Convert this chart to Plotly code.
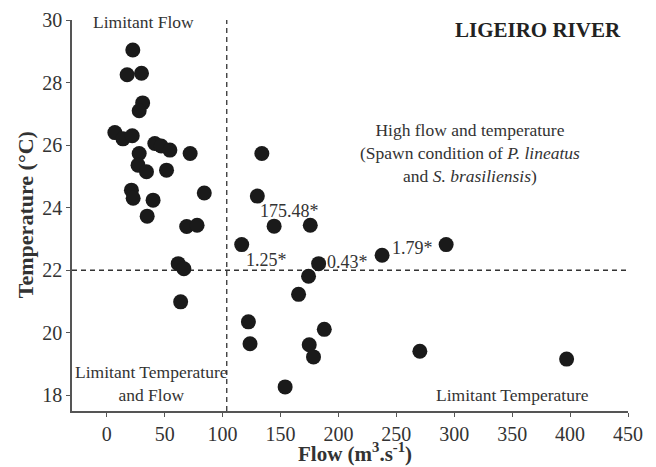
import plotly.graph_objects as go

flow = [22.5, 17.6, 30, 31, 28, 7, 14, 22, 41.5, 47, 54.5, 72, 28, 27, 34.3, 51.6,
        21.3, 22.8, 40, 84.2, 34.9, 69, 78, 61.7, 66.6, 63.8,
        116.5, 133.9, 130, 144.5, 175.7, 237.7, 182.9, 174.2, 165.6, 122.3, 123.7,
        187.8, 174.8, 178.5, 154, 293, 270.3, 397]
temperature = [29.04, 28.25, 28.3, 27.35, 27.1, 26.4, 26.2, 26.3, 26.05, 25.97, 25.84, 25.73,
               25.73, 25.36, 25.15, 25.2, 24.56, 24.3, 24.24, 24.47, 23.73, 23.4, 23.44,
               22.21, 22.05, 20.99,
               22.82, 25.73, 24.37, 23.41, 23.44, 22.48, 22.21, 21.81, 21.23, 20.35, 19.65,
               20.11, 19.62, 19.23, 18.27, 22.82, 19.41, 19.16]

x_ticks = [0, 50, 100, 150, 200, 250, 300, 350, 400, 450]
y_ticks = [18, 20, 22, 24, 26, 28, 30]

flow_limit = 103.6
temp_limit = 22

value_labels = ["175.48*", "1.25*", "0.43*", "1.79*"]
value_label_x = [157.5, 137.6, 207.7, 264]
value_label_y = [23.89, 22.32, 22.26, 22.7]

FONT = "Liberation Serif"
TXT = "#333333"

fig = go.Figure()
fig.add_trace(go.Scatter(
    x=flow, y=temperature, mode="markers",
    marker=dict(size=15, color="#1a1a1a", line=dict(width=0)),
    cliponaxis=False, showlegend=False, hoverinfo="x+y"))

# threshold lines
fig.add_shape(type="line", xref="x", yref="y", x0=flow_limit, x1=flow_limit, y0=17.5, y1=30,
              line=dict(color="#333333", width=1.3, dash="5px,4px"), layer="below")
fig.add_shape(type="line", xref="x", yref="y", x0=-30, x1=455, y0=temp_limit, y1=temp_limit,
              line=dict(color="#333333", width=1.3, dash="5px,4px"), layer="below")

def ann(x, y, text, size, xref="x", yref="y", **kw):
    d = dict(x=x, y=y, xref=xref, yref=yref, text=text, showarrow=False,
             xanchor="center", yanchor="middle", align="center",
             font=dict(family=FONT, size=size, color=kw.pop("color", TXT)))
    d.update(kw)
    return d

anns = []
for t, x, y in zip(value_labels, value_label_x, value_label_y):
    anns.append(ann(x, y, t, 18))

anns += [
    ann(32, 29.94, "Limitant Flow", 17.5),
    ann(372, 29.68, "<b>LIGEIRO RIVER</b>", 21, color="#222222"),
    ann(314, 25.76,
        "High flow and temperature<br>(Spawn condition of <i>P. lineatus</i><br>and <i>S. brasiliensis</i>)",
        17.5),
    ann(350.5, 18.0, "Limitant Temperature", 17.5),
    ann(39, 18.37, "Limitant Temperature<br>and Flow", 17.5),
    ann(-0.0845, 0.501, "<b>Temperature (°C)</b>", 22, xref="paper", yref="paper", textangle=-90),
    ann(0.509, -0.106, "<b>Flow (m<sup>3</sup>.s<sup>-1</sup>)</b>", 21, xref="paper", yref="paper"),
]

fig.update_layout(
    width=648, height=459,
    margin=dict(l=64, r=28, t=12, b=56, autoexpand=False),
    paper_bgcolor="white", plot_bgcolor="white",
    annotations=anns,
    font=dict(family=FONT, size=20, color=TXT),
)
axis_style = dict(showgrid=False, zeroline=False, showline=True, linecolor="#555555",
                  linewidth=1.5, ticks="outside", ticklen=4, tickcolor="#555555",
                  automargin=False,
                  tickfont=dict(family=FONT, size=20, color=TXT))
fig.update_xaxes(range=[-30, 450], tickvals=x_ticks, **axis_style)
fig.update_yaxes(range=[17.5, 30], tickvals=y_ticks, **axis_style)

fig.write_html("out.html")
